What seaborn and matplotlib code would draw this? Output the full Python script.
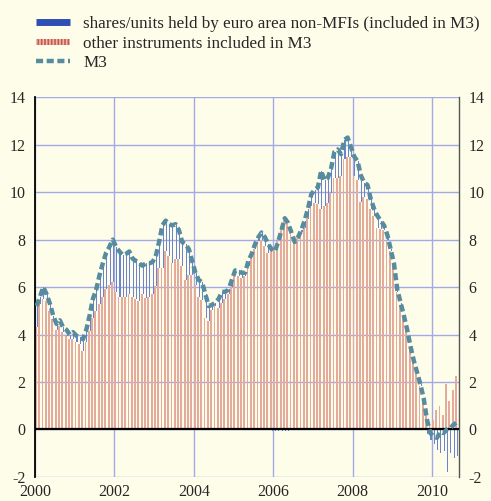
import numpy as np
import pandas as pd
import matplotlib
matplotlib.use("Agg")
import matplotlib.pyplot as plt
import seaborn as sns
from matplotlib.lines import Line2D
from matplotlib.patches import Patch, Rectangle
from matplotlib.legend_handler import HandlerPatch

# monthly data, Jan 2000 - Aug 2010 (annual percentage changes / contributions)
months = pd.date_range("2000-01-01", "2010-08-01", freq="MS")

m3 = [
    5.2, 5.6, 6.0, 5.7, 5.3, 4.8, 4.45, 4.6, 4.3, 4.2, 4.0, 4.1,        # 2000
    3.95, 3.9, 3.8, 4.2, 4.8, 5.5, 5.9, 6.5, 7.0, 7.45, 7.7, 8.0,       # 2001
    7.7, 7.5, 7.35, 7.4, 7.5, 7.2, 7.1, 7.0, 6.9, 7.0, 7.0, 7.05,       # 2002
    7.3, 7.9, 8.6, 8.8, 8.65, 8.6, 8.65, 8.4, 7.9, 7.8, 7.6, 7.1,       # 2003
    6.6, 6.3, 6.2, 5.7, 5.2, 5.25, 5.35, 5.5, 5.8, 5.8, 5.9, 6.3,       # 2004
    6.7, 6.7, 6.6, 6.6, 7.1, 7.4, 7.8, 8.1, 8.3, 8.1, 7.8, 7.6,         # 2005
    7.5, 7.9, 8.4, 8.9, 8.7, 8.3, 7.9, 8.1, 8.4, 8.8, 9.3, 9.9,         # 2006
    10.1, 10.2, 10.9, 10.5, 10.6, 11.0, 11.7, 11.8, 11.6, 12.2, 12.3, 11.9,  # 2007
    11.5, 11.3, 10.7, 10.4, 10.3, 9.7, 9.3, 9.0, 8.8, 8.6, 8.2, 7.6,    # 2008
    7.0, 5.9, 5.35, 4.8, 4.2, 3.5, 2.9, 2.4, 1.9, 1.3, 0.4, -0.15,      # 2009
    -0.3, -0.35, -0.1, -0.15, 0.0, 0.05, 0.2, 0.3,                      # 2010
]

other = [
    4.3, 5.3, 5.5, 5.4, 5.0, 4.65, 4.2, 4.35, 4.1, 3.95, 3.8, 3.8,
    3.7, 3.6, 3.3, 3.7, 4.15, 4.7, 5.0, 5.3, 5.6, 5.9, 6.1, 6.2,
    5.8, 5.6, 5.6, 5.6, 5.7, 5.6, 5.5, 5.4, 5.7, 5.55, 5.6, 5.7,
    6.05, 6.8, 6.8, 7.5, 7.3, 7.0, 7.2, 7.2, 6.9, 6.3, 6.5, 6.5,
    6.1, 5.6, 5.45, 4.7, 4.55, 5.05, 5.2, 5.1, 5.35, 5.5, 5.7, 6.0,
    6.55, 6.45, 6.4, 6.45, 6.9, 7.3, 7.6, 7.95, 8.0, 7.75, 7.45, 7.65,
    7.55, 7.95, 8.45, 8.95, 8.75, 8.3, 7.85, 8.05, 8.3, 8.5, 8.85, 9.4,
    9.55, 9.5, 9.3, 9.4, 9.55, 9.95, 10.6, 10.6, 10.7, 11.4, 11.5, 11.5,
    10.7, 10.5, 9.6, 9.8, 9.7, 9.3, 9.0, 8.5, 8.45, 8.4, 8.0, 7.5,
    6.9, 5.8, 5.25, 4.75, 4.15, 3.45, 2.85, 2.35, 1.85, 1.3, 0.6, 0.3,
    0.4, 0.8, 1.0, 0.6, 1.9, 1.2, 1.65, 2.25,
]

shares = [
    0.9, 0.3, 0.5, 0.3, 0.3, 0.15, 0.25, 0.25, 0.2, 0.25, 0.2, 0.3,
    0.25, 0.3, 0.5, 0.5, 0.65, 0.8, 0.9, 1.2, 1.4, 1.55, 1.6, 1.8,
    1.9, 1.9, 1.75, 1.8, 1.8, 1.6, 1.6, 1.6, 1.2, 1.45, 1.4, 1.35,
    1.25, 1.1, 1.8, 1.3, 1.35, 1.6, 1.45, 1.2, 1.0, 1.5, 1.1, 0.6,
    0.5, 0.7, 0.75, 1.0, 0.65, 0.2, 0.15, 0.4, 0.45, 0.3, 0.2, 0.3,
    0.15, 0.25, 0.2, 0.15, 0.2, 0.1, 0.2, 0.15, 0.3, 0.35, 0.35, -0.05,
    -0.05, -0.05, -0.05, -0.05, -0.05, 0.0, 0.05, 0.05, 0.1, 0.3, 0.45, 0.5,
    0.55, 0.7, 1.6, 1.1, 1.05, 1.05, 1.1, 1.2, 0.9, 0.8, 0.8, 0.4,
    0.8, 0.8, 1.1, 0.6, 0.6, 0.4, 0.3, 0.5, 0.35, 0.2, 0.2, 0.1,
    0.1, 0.1, 0.1, 0.05, 0.05, 0.05, 0.05, 0.05, 0.05, 0.0, -0.2, -0.45,
    -0.6, -0.85, -1.0, -0.9, -1.8, -1.0, -1.2, -1.1,
]

labels = ["shares/units held by euro area non-MFIs (included in M3)",
          "other instruments included in M3",
          "M3"]

# colours
bg = "#fefdea"
grid_col = "#a3a8e6"
red_col = "#e4ab9d"
blue_col = "#6a82d8"
m3_col = "#578c9e"

sns.set_style("white")
plt.rcParams["font.family"] = ["Liberation Serif", "DejaVu Serif"]
plt.rcParams["font.size"] = 11.5
plt.rcParams["hatch.linewidth"] = 1.2
plt.rcParams["axes.unicode_minus"] = False

df = pd.DataFrame({"t": months.year + (months.month - 1) / 12,
                   "m3": m3, "other": other, "shares": shares})
month_w = 1 / 12

fig = plt.figure(figsize=(4.91, 5.01), dpi=100, facecolor=bg)
ax = fig.add_axes([0.0713, 0.048, 0.8635, 0.758], facecolor=bg)

# stacked bars: other instruments from zero, shares on top (or below zero)
ax.bar(df["t"] + 0.25 * month_w, df["other"], width=0.55 * month_w,
       color=red_col, linewidth=0, zorder=2)
bottom = np.where(df["shares"] > 0, df["other"], 0)
ax.bar(df["t"] + 0.7 * month_w, df["shares"], bottom=bottom,
       width=0.32 * month_w, color=blue_col, linewidth=0, zorder=2)

sns.lineplot(x=df["t"] + 0.5 * month_w, y=df["m3"], ax=ax, color=m3_col,
             linewidth=3.2, linestyle=(0, (1.6, 0.8)), zorder=4)

ax.axhline(0, color="black", linewidth=1.6, zorder=3)

ax.set_xlim(2000, 2010.68)
ax.set_ylim(-2, 14)
ax.set_xticks(range(2000, 2011, 2))
ax.set_yticks(range(-2, 15, 2))
ax.set_xlabel("")
ax.set_ylabel("")
ax.grid(True, color=grid_col, linewidth=1.0)
ax.set_axisbelow(True)

for s in ["top", "bottom"]:
    ax.spines[s].set_visible(False)
ax.spines["left"].set_color("black")
ax.spines["left"].set_linewidth(1.3)
ax.spines["right"].set_color("#555555")
ax.spines["right"].set_linewidth(1.0)

ax.tick_params(axis="y", length=0, pad=7, labelright=True, labelsize=11.5)
ax.tick_params(axis="x", direction="out", length=4, width=1.2, color="black",
               pad=1, labelsize=11.5)


def thin_rect(legend, orig_handle, xdescent, ydescent, width, height, fontsize):
    return Rectangle((-xdescent, -ydescent + height * 0.25), width, height * 0.5)


handles = [
    Line2D([], [], color="#2f4fb5", linewidth=5, solid_capstyle="butt"),
    Patch(facecolor="#ebbcae", edgecolor="#c9574b", hatch="|||||", linewidth=0),
    Line2D([], [], color=m3_col, linewidth=3.2, linestyle=(0, (1.6, 0.8)),
           dash_capstyle="butt"),
]
fig.legend(handles, labels, loc="upper left", bbox_to_anchor=(0.06, 0.982),
           frameon=False, fontsize=12.3, handlelength=1.95, handletextpad=0.8,
           labelspacing=0.22, borderaxespad=0,
           handler_map={Patch: HandlerPatch(patch_func=thin_rect)})

fig.savefig("out.png", dpi=100, facecolor=bg)
